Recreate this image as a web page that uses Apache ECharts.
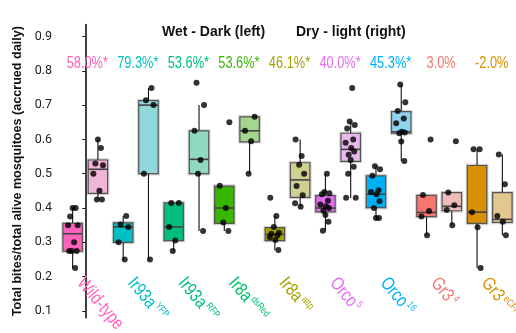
<!DOCTYPE html>
<html>
<head>
<meta charset="utf-8">
<script src="https://cdn.jsdelivr.net/npm/echarts@6/dist/echarts.min.js"></script>
<style>
  html, body { margin: 0; padding: 0; background: #fff; }
  #chart { width: 516px; height: 333px; }
</style>
</head>
<body>
<div id="chart"></div>
<script>
// Genotypes along the x axis (name + allele shown as superscript)
const strains = ['Wild-type', 'Ir93a', 'Ir93a', 'Ir8a', 'Ir8a', 'Orco', 'Orco', 'Gr3', 'Gr3'];
const alleles = ['', 'YFP', 'RFP', 'dsRed', 'attp', '5', '16', '4', 'eCFP'];
// Increase in biting, dry-light vs wet-dark
const effectLabels = ['58.0%*', '79.3%*', '53.6%*', '53.6%*', '46.1%*', '40.0%*', '45.3%*', '3.0%', '-2.0%'];
const groupColors = ['#FF62BC', '#00BFC4', '#00BF7D', '#39B600', '#A3A500', '#E76BF3', '#00B0F6', '#F8766D', '#D89000'];
const nameColors = ['#FF62BC', '#00BFC4', '#00BF7D', '#00BF6A', '#A3A500', '#E76BF3', '#00B0F6', '#F8766D', '#D89000'];
const yTicks = [0.1, 0.2, 0.3, 0.4, 0.5, 0.6, 0.7, 0.8, 0.9];

// Box summaries per genotype: [min, q1, median, q3, max]
const wetBoxes = [
  [0.224, 0.274, 0.325, 0.355, 0.402],
  [0.250, 0.300, 0.345, 0.357, 0.377],
  [0.275, 0.305, 0.345, 0.415, 0.415],
  [0.333, 0.355, 0.400, 0.464, 0.464],
  [0.277, 0.305, 0.323, 0.343, 0.377],
  [0.334, 0.389, 0.400, 0.436, 0.500],
  [0.371, 0.401, 0.440, 0.494, 0.522],
  [0.321, 0.375, 0.387, 0.437, 0.437],
  [0.225, 0.355, 0.388, 0.524, 0.571]
];
const dryBoxes = [
  [0.426, 0.443, 0.513, 0.540, 0.600],
  [0.250, 0.500, 0.700, 0.713, 0.750],
  [0.333, 0.500, 0.542, 0.625, 0.700],
  [0.500, 0.593, 0.625, 0.666, 0.666],
  [0.404, 0.431, 0.482, 0.532, 0.600],
  [0.429, 0.536, 0.571, 0.618, 0.652],
  [0.537, 0.618, 0.622, 0.681, 0.760],
  [0.350, 0.392, 0.405, 0.445, 0.445],
  [0.321, 0.358, 0.367, 0.445, 0.556]
];

// Individual replicate values
const wetPoints = [
  [0.40, 0.40, 0.375, 0.35, 0.35, 0.30, 0.275, 0.275, 0.275, 0.225],
  [0.377, 0.352, 0.345, 0.30, 0.25],
  [0.415, 0.415, 0.345, 0.305, 0.275],
  [0.65, 0.465, 0.40, 0.358, 0.333],
  [0.43, 0.377, 0.345, 0.328, 0.325, 0.32, 0.315, 0.307, 0.278],
  [0.50, 0.447, 0.443, 0.44, 0.421, 0.41, 0.405, 0.40, 0.392, 0.38, 0.36, 0.334],
  [0.522, 0.513, 0.494, 0.452, 0.447, 0.44, 0.42, 0.40, 0.371, 0.371],
  [0.60, 0.438, 0.391, 0.375, 0.321],
  [0.571, 0.571, 0.388, 0.344, 0.225]
];
const dryPoints = [
  [0.60, 0.575, 0.53, 0.525, 0.50, 0.45, 0.425, 0.425],
  [0.75, 0.714, 0.70, 0.50, 0.25],
  [0.765, 0.70, 0.625, 0.54, 0.50, 0.333],
  [0.666, 0.625, 0.595, 0.50],
  [0.60, 0.552, 0.526, 0.50, 0.464, 0.437, 0.414, 0.404],
  [0.75, 0.652, 0.642, 0.632, 0.60, 0.59, 0.575, 0.565, 0.555, 0.54, 0.52, 0.50, 0.43, 0.43],
  [0.76, 0.708, 0.683, 0.661, 0.647, 0.622, 0.62, 0.618, 0.594, 0.537],
  [0.595, 0.445, 0.408, 0.394, 0.35],
  [0.556, 0.469, 0.377, 0.36, 0.321]
];

const SANS = "'Liberation Sans', Arial, sans-serif";
const PAIR_OFFSET = 0.25;   // wet box left of the category, dry box right
const BOX_HALF = 0.192;     // half box width in category units
const EFFECT_ROW = 0.82;    // height of the effect-size row
const NAME_ROW = 0.19;      // where the rotated genotype names start
const SQUEEZE = 0.8;        // horizontal condensing of the label lettering

function hexToRgb(h) {
  const n = parseInt(h.slice(1), 16);
  return [(n >> 16) & 255, (n >> 8) & 255, n & 255];
}
// pale version of a hue, washed toward light grey
function pale(h, a) {
  const c = hexToRgb(h), g = 232;
  return 'rgb(' + c.map(v => Math.round(v * a + g * (1 - a))).join(',') + ')';
}

function boxData(boxes, offset) {
  return boxes.map((b, i) => [i + offset].concat(b));
}
// small fixed horizontal spread so overlapping replicates stay visible
function jitter(k) {
  const pattern = [0, 0.06, -0.05, 0.1, -0.09, 0.03, -0.02, 0.08, -0.07, 0.05, -0.1, 0.01, 0.07, -0.04];
  return pattern[k % pattern.length];
}
function pointData(groups, offset) {
  const out = [];
  groups.forEach((vals, i) => vals.forEach((v, k) => out.push([i + offset + jitter(k + i), v])));
  return out;
}

function makeBoxRenderer(fillFor) {
  return function (params, api) {
    const x = api.value(0);
    const pMin = api.coord([x, api.value(1)]);
    const pQ1 = api.coord([x, api.value(2)]);
    const pMed = api.coord([x, api.value(3)]);
    const pQ3 = api.coord([x, api.value(4)]);
    const pMax = api.coord([x, api.value(5)]);
    const half = api.size([BOX_HALF, 0])[0];
    const cx = pMed[0];
    const fill = fillFor(params.dataIndex);
    return {
      type: 'group',
      children: [
        { type: 'line', shape: { x1: cx, y1: pQ3[1], x2: cx, y2: pMax[1] }, style: { stroke: '#111', lineWidth: 1.1 } },
        { type: 'line', shape: { x1: cx, y1: pQ1[1], x2: cx, y2: pMin[1] }, style: { stroke: '#111', lineWidth: 1.1 } },
        { type: 'rect', shape: { x: cx - half, y: pQ3[1], width: half * 2, height: pQ1[1] - pQ3[1] },
          style: { fill: 'none', stroke: 'rgba(0,0,0,0.18)', lineWidth: 3.4 } },
        { type: 'rect', shape: { x: cx - half, y: pQ3[1], width: half * 2, height: pQ1[1] - pQ3[1] },
          style: { fill: fill, stroke: '#555', lineWidth: 1.2 } },
        { type: 'line', shape: { x1: cx - half, y1: pMed[1], x2: cx + half, y2: pMed[1] },
          style: { stroke: '#444', lineWidth: 1.6 } }
      ]
    };
  };
}

const chart = echarts.init(document.getElementById('chart'), null, { renderer: 'canvas' });
chart.setOption({
  animation: false,
  backgroundColor: '#fff',
  grid: { left: 60, right: 1, top: 24.5, bottom: 15.2, containLabel: false },
  graphic: [
    { type: 'text', left: 162, top: 25, style: { text: 'Wet - Dark (left)', font: "bold 14px 'Liberation Sans', Arial, sans-serif", fill: '#111' } },
    { type: 'text', left: 296, top: 25, style: { text: 'Dry - light (right)', font: "bold 14px 'Liberation Sans', Arial, sans-serif", fill: '#111' } }
  ],
  xAxis: {
    type: 'value', min: -0.5, max: 8.5,
    axisLine: { show: false }, axisTick: { show: false }, splitLine: { show: false },
    axisLabel: { show: false }
  },
  yAxis: {
    type: 'value', min: 0.08, max: 0.935,
    name: 'Total bites/total alive mosquitoes (accrued daily)',
    nameLocation: 'middle', nameGap: 27,
    nameTextStyle: { fontFamily: SANS, fontWeight: 'bold', fontSize: 12.6, color: '#111' },
    axisLine: { show: true, lineStyle: { color: '#111', width: 1.6 } },
    axisTick: { show: true, length: 3, customValues: yTicks, lineStyle: { color: '#111', width: 1 } },
    axisLabel: { customValues: yTicks, formatter: v => v.toFixed(1), fontFamily: 'Roboto, sans-serif', fontSize: 12.5, color: '#222', margin: 8 },
    splitLine: { show: false }
  },
  series: [
    {
      type: 'custom', name: 'wet', z: 2,
      renderItem: makeBoxRenderer(i => groupColors[i]),
      encode: { x: 0, y: [1, 2, 3, 4, 5] },
      data: boxData(wetBoxes, -PAIR_OFFSET)
    },
    {
      type: 'custom', name: 'dry', z: 2,
      renderItem: makeBoxRenderer(i => pale(groupColors[i], 0.38)),
      encode: { x: 0, y: [1, 2, 3, 4, 5] },
      data: boxData(dryBoxes, PAIR_OFFSET)
    },
    {
      type: 'scatter', z: 5, symbol: 'circle', symbolSize: 6,
      itemStyle: { color: '#000' },
      data: pointData(wetPoints, -PAIR_OFFSET)
    },
    {
      type: 'scatter', z: 5, symbol: 'circle', symbolSize: 6,
      itemStyle: { color: '#000' },
      data: pointData(dryPoints, PAIR_OFFSET)
    },
    {
      // effect size above each genotype pair
      type: 'custom', z: 6, silent: true,
      renderItem: (params, api) => {
        const p = api.coord([api.value(0), api.value(1)]);
        return {
          type: 'text', x: p[0] + 2, y: p[1], scaleX: SQUEEZE,
          style: { text: effectLabels[params.dataIndex], fill: groupColors[params.dataIndex],
                   font: '16px ' + SANS, align: 'center', verticalAlign: 'middle' }
        };
      },
      data: effectLabels.map((t, i) => [i, EFFECT_ROW])
    },
    {
      // rotated genotype names with allele superscripts
      type: 'custom', z: 6, silent: true,
      renderItem: (params, api) => {
        const i = params.dataIndex;
        const p = api.coord([api.value(0), api.value(1)]);
        const c = nameColors[i];
        return {
          type: 'text', x: p[0] - 5, y: p[1], rotation: -50 * Math.PI / 180, scaleX: SQUEEZE,
          style: {
            text: '{m|' + strains[i] + '}' + (alleles[i] ? '{s|' + alleles[i] + '}' : ''),
            align: 'left', verticalAlign: 'middle',
            rich: {
              m: { fill: c, font: '18.5px ' + SANS, lineHeight: 19 },
              s: { fill: c, font: '10px ' + SANS, verticalAlign: 'top', padding: [0, 0, 0, 2] }
            }
          }
        };
      },
      data: strains.map((s, i) => [i, NAME_ROW])
    }
  ]
});
</script>
</body>
</html>
